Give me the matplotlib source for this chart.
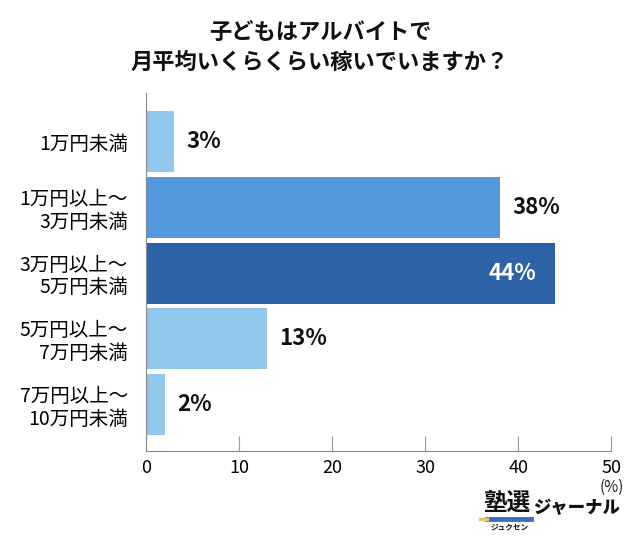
import matplotlib
matplotlib.use("Agg")
import matplotlib.pyplot as plt

plt.rcParams['font.family'] = ['Noto Sans CJK JP', 'DejaVu Sans']

categories = ["1万円未満", "1万円以上～\n3万円未満", "3万円以上～\n5万円未満", "5万円以上～\n7万円未満", "7万円以上～\n10万円未満"]
values = [3, 38, 44, 13, 2]
labels = ["3%", "38%", "44%", "13%", "2%"]
colors = ["#92C8EE", "#5398DA", "#2E62A6", "#92C8EE", "#92C8EE"]
xticks = [0, 10, 20, 30, 40, 50]

fig = plt.figure(figsize=(6.4, 5.45), dpi=100)
ax = fig.add_axes([0.228, 0.1725, 0.727, 0.6565])

y = list(range(len(categories)))
ax.barh(y, values, height=0.93, color=colors)
ax.set_ylim(4.71, -0.74)
ax.set_xlim(0, 50)
ax.set_xticks(xticks)
ax.set_xticklabels([str(t) for t in xticks], fontsize=13)
ax.set_yticks(y)
ax.set_yticklabels(categories, fontsize=14, linespacing=1.12)
ax.tick_params(axis='y', length=0, pad=13)
ax.tick_params(axis='x', direction='in', length=11, color='#999999', pad=6)
for s in ['top', 'right']:
    ax.spines[s].set_visible(False)
ax.spines['left'].set_color('#888888')
ax.spines['bottom'].set_color('#888888')

for i, (v, lab) in enumerate(zip(values, labels)):
    if v >= 40:
        ax.annotate(lab, (v, i), xytext=(-14, 0), textcoords='offset points',
                    ha='right', va='center', fontsize=16, fontweight='bold', color='white')
    else:
        ax.annotate(lab, (v, i), xytext=(9, 0), textcoords='offset points',
                    ha='left', va='center', fontsize=16, fontweight='bold', color='#111111')

fig.text(0.5, 1 - 47.5/545, "子どもはアルバイトで\n月平均いくらくらい稼いでいますか？", ha='center', va='center',
         fontsize=16, fontweight='bold', linespacing=1.4, color='#111111')
fig.text(612/640, 1-487/545, "(%)", ha='center', va='center', fontsize=11, color='#222222')

# logo
fig.text(506.5/640, 1-503/545, "塾選", ha='center', va='center', fontsize=17, fontweight='bold', color='#111111')
fig.add_artist(plt.Line2D([487/640, 531/640], [1-519/545, 1-519/545], color='#3A6FC0', lw=3.5))
fig.add_artist(plt.Line2D([480/640, 487/640], [1-519/545, 1-519/545], color='#E8C36A', lw=2.5))
fig.text(510/640, 1-527/545, "ジュクセン", ha='center', va='center', fontsize=5.5, fontweight='bold', color='#111111')
fig.text(576/640, 1-508/545, "ジャーナル", ha='center', va='center', fontsize=12.5, fontweight='heavy', color='#111111')

fig.savefig("out.png", dpi=100)
